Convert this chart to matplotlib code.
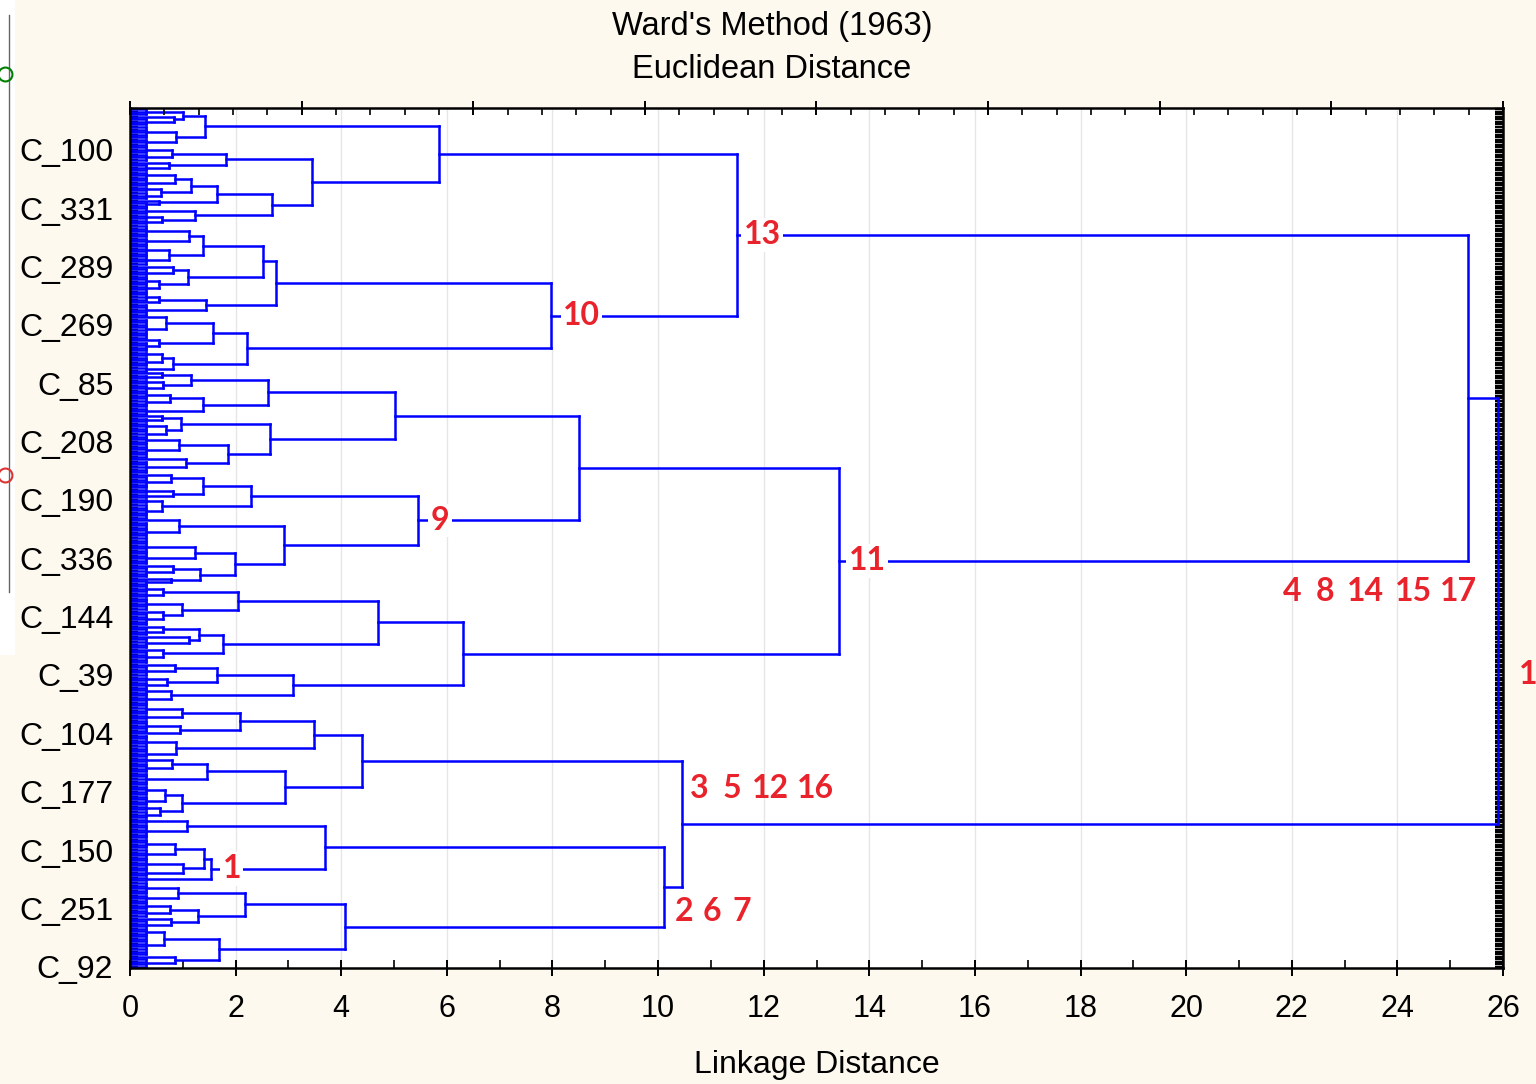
import matplotlib
matplotlib.use('Agg')
import matplotlib.pyplot as plt
from matplotlib.collections import LineCollection
import matplotlib.patches as mpatches
import numpy as np

# ---------------- data ----------------
# Tree nodes: (linkage distance, upper child, lower child); an int = a small group of
# leaves fused at a very low linkage distance (unresolved at this scale).
LOW_H = 0.3

D1 = (1.42, (1.0, 3, (0.84, 1, 3)), (0.88, 5, 3))
D2 = (3.44, (1.81, (0.80, 3, 3), (0.74, 1, 3)),
      (2.68, (1.64, (1.16, (0.85, 3, 3), (0.58, 2, 3)), (0.54, 1, 2)),
       (1.23, 3, (0.60, 2, 2))))
D = (5.85, D1, D2)
E1a = (2.51, (1.38, (1.12, 5, 3), (0.73, 4, 4)), (1.09, (0.81, 1, 4), (0.54, 2, 4)))
E1 = (2.76, E1a, (1.44, (0.54, 3, 1), 5))
E2 = (2.22, (1.58, (0.69, 1, 8), (0.54, 1, 4)), (0.82, (0.61, 2, 4), 2))
E = (7.97, E1, E2)
B = (11.50, D, E)

F = (5.02, (2.61, (1.15, (0.60, 1, 2), (0.63, 2, 3)), (1.38, (0.76, 2, 4), 3)),
     (2.66, (0.97, (0.60, 1, 2), (0.69, 3, 3)), (1.85, (0.92, 2, 6), (1.06, 1, 5))))
N9 = (5.46, (2.30, (1.38, (0.77, 1, 5), (0.82, 2, 2)), (0.61, 2, 6)),
      (2.92, (0.93, 1, 8), (1.99, (1.23, 4, 5), (1.33, (0.82, 1, 4), (0.77, 1, 2)))))
N85 = (8.50, F, N9)
N468 = (4.70, (2.04, (0.62, 3, 2), (0.99, 5, (0.62, 1, 5))),
        (1.76, (1.31, (0.63, 1, 3), (1.12, 1, 4)), (0.62, 1, 5)))
N309 = (3.09, (1.64, (0.86, 1, 4), (0.71, 2, 3)), (0.77, 2, 4))
N631 = (6.31, N468, N309)
C = (13.43, N85, N631)
A = (25.34, B, C)

N44 = (4.39, (3.48, (2.08, (0.99, 4, 2), (0.95, 5, 1)), (0.87, 6, 3)),
       (2.94, (1.46, (0.79, 2, 4), 5), (0.99, (0.66, 4, 4), (0.57, 2, 3))))
N369 = (3.69, (1.07, 2, 6), (1.53, (1.40, (0.86, 4, 4), (1.0, 4, 3)), 2))
N409 = (4.07, (2.18, (0.90, 5, 3), (1.29, (0.76, 3, 3), (0.78, 1, 4))),
        (1.69, (0.65, 2, 8), (0.85, 1, 4)))
N1011 = (10.11, N369, N409)
N1045 = (10.45, N44, N1011)
ROOT = (25.9, A, N1045)

leaf_labels = ["C_100", "C_331", "C_289", "C_269", "C_85", "C_208", "C_190", "C_336",
               "C_144", "C_39", "C_104", "C_177", "C_150", "C_251", "C_92"]
label_every = 23

x_ticks = [0, 2, 4, 6, 8, 10, 12, 14, 16, 18, 20, 22, 24, 26]
title_lines = ["Ward's Method (1963)", "Euclidean Distance"]
x_label = "Linkage Distance"

# red cluster-number annotations: (text, x in linkage units)
group_a = [("4", 21.84), ("8", 22.46), ("14", 23.05), ("15", 23.96), ("17", 24.81)]
group_b = [("3", 10.61), ("5", 11.23), ("12", 11.78), ("16", 12.63)]
group_c = [("2", 10.32), ("6", 10.85), ("7", 11.40)]

# ---------------- layout ----------------
segs = []
pos = {}


def layout(node, start):
    if isinstance(node, int):
        n = node
        if n == 1:
            return (0.0, float(start)), start + 1
        for k in range(n):
            segs.append([(0, start + k), (LOW_H, start + k)])
        segs.append([(LOW_H, start), (LOW_H, start + n - 1)])
        return (LOW_H, start + (n - 1) / 2.0), start + n
    h, up, low = node
    (x1, y1), nxt = layout(up, start)
    (x2, y2), nxt = layout(low, nxt)
    segs.append([(x1, y1), (h, y1)])
    segs.append([(x2, y2), (h, y2)])
    segs.append([(h, y1), (h, y2)])
    p = (h, (y1 + y2) / 2.0)
    pos[id(node)] = p
    return p, nxt


_, N = layout(ROOT, 0)

# ---------------- figure ----------------
W, H = 1536, 1084
fig = plt.figure(figsize=(W / 100, H / 100), dpi=100, facecolor='#FDF9EE')
ax = fig.add_axes([130 / W, 1 - 968 / H, (1503 - 130) / W, (968 - 108) / H])
ax.set_facecolor('white')

ax.add_collection(LineCollection(segs, colors='#0000FF', linewidths=1.8, zorder=2,
                                 capstyle='projecting'))
ax.set_xlim(0, 26)
ax.set_ylim(N - 0.5, -0.5)

for sp in ax.spines.values():
    sp.set_linewidth(1.8)
    sp.set_color('black')

# grid
ax.set_xticks(x_ticks)
ax.set_xticklabels([str(t) for t in x_ticks], fontsize=22, family='Liberation Sans')
ax.set_xticks(np.arange(1, 26, 2), minor=True)
ax.grid(axis='x', which='major', color='#E6E6E6', lw=1.0, zorder=0)
ax.set_axisbelow(True)
ax.tick_params(axis='x', which='major', direction='inout', length=12, width=1.4, pad=13,
               top=False)
ax.tick_params(axis='x', which='minor', direction='in', length=6, width=1.2, top=False)

# y ticks: every leaf a minor tick, labelled ones major
lab_idx = [N - 1 - label_every * k for k in range(len(leaf_labels))][::-1]
ax.set_yticks(lab_idx)
ax.set_yticklabels(leaf_labels, fontsize=23, family='Liberation Sans')
ax.set_yticks(np.arange(N), minor=True)
ax.tick_params(axis='y', which='both', direction='in', length=6, width=1.7,
               left=True, right=True, pad=12)

fig.text(817 / W, 1 - 1065 / H, x_label, ha='center', va='center', fontsize=23,
         family='Liberation Sans')

# top axis ticks
ax2 = ax.twiny()
ax2.set_xlim(0, 26)
ax2.set_xticks(np.arange(0, 26.01, 3.25))
ax2.set_xticks(np.arange(0, 26.01, 0.65), minor=True)
ax2.tick_params(axis='x', which='major', direction='inout', length=10, width=1.4,
                labeltop=False)
ax2.tick_params(axis='x', which='minor', direction='in', length=5, width=1.2)
for sp in ax2.spines.values():
    sp.set_visible(False)

# titles
fig.text(772 / W, 1 - 26 / H, title_lines[0], ha='center', va='center', fontsize=23.5,
         family='Liberation Sans')
fig.text(772 / W, 1 - 70 / H, title_lines[1], ha='center', va='center', fontsize=23.5,
         family='Liberation Sans')

# red annotations
red = '#E8232B'
ann = dict(color=red, fontsize=23, fontweight='bold', family=['Lato', 'DejaVu Sans'],
           va='center', zorder=5)
box = dict(facecolor='white', edgecolor='none', pad=1.5)
for node, txt, xc in [(B, '13', 11.97), (E, '10', 8.55), (N9, '9', 5.87),
                      (C, '11', 13.96), (N369[2], '1', 1.93)]:
    ax.text(xc, pos[id(node)][1], txt, ha='center', bbox=box, **ann)
for txt, xl in group_a:
    ax.text(xl, pos[id(C)][1] + 12, txt, ha='left', **ann)
for txt, xl in group_b:
    ax.text(xl, pos[id(N1045)][1] - 14, txt, ha='left', **ann)
for txt, xl in group_c:
    ax.text(xl, pos[id(N1011)][1] + 9.5, txt, ha='left', **ann)
fig.text(1519 / W, 1 - 675 / H, '1', color=red, fontsize=23, fontweight='bold',
         family=['Lato', 'DejaVu Sans'], va='center', ha='left')

# screenshot remnants on the left edge
fig.patches.append(mpatches.Rectangle((0, 1 - 655 / H), 15 / W, 655 / H,
                                      transform=fig.transFigure, facecolor='white',
                                      edgecolor='none', zorder=0))
fig.lines.append(plt.Line2D([9 / W, 9 / W], [1 - 15 / H, 1 - 592 / H],
                            transform=fig.transFigure, color='#666666', lw=1))
fig.lines.append(plt.Line2D([5 / W], [1 - 74 / H], transform=fig.transFigure,
                            marker='o', ms=10, mfc='none', mec='green', mew=1.5))
fig.lines.append(plt.Line2D([5 / W], [1 - 475 / H], transform=fig.transFigure,
                            marker='o', ms=10, mfc='none', mec='#DD3333', mew=1.5))

fig.savefig('out.png', dpi=100, facecolor=fig.get_facecolor())
